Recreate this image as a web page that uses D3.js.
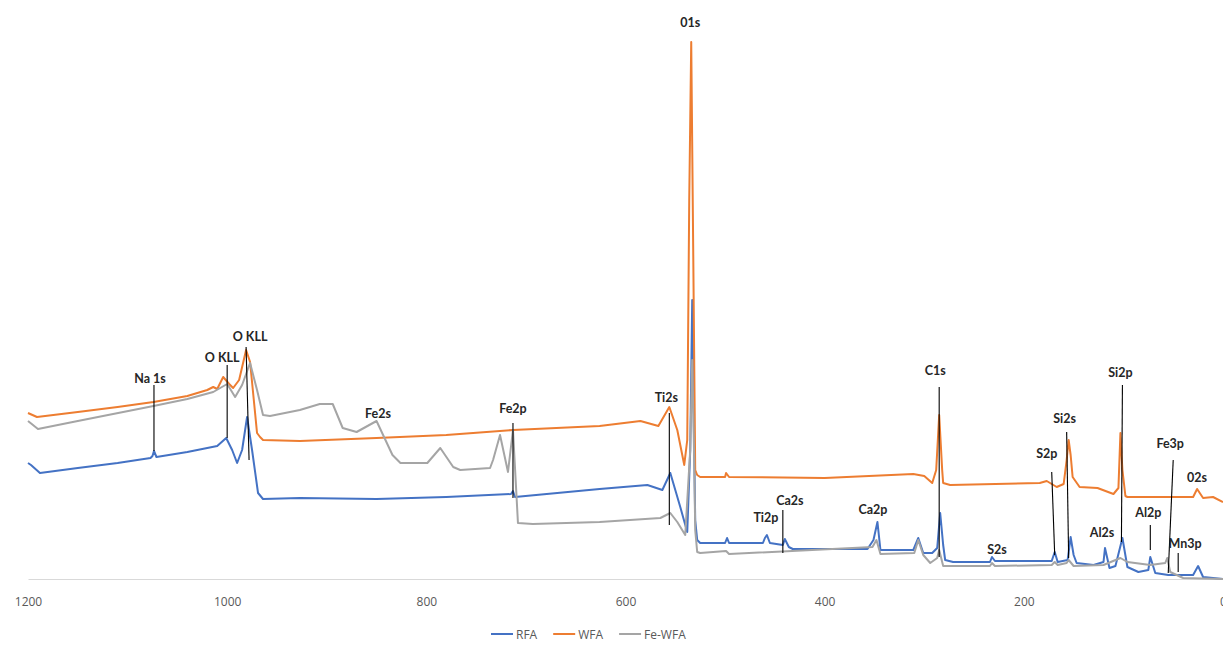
<!doctype html>
<html>
<head>
    <script src="https://d3js.org/d3.v7.min.js"></script>
</head>
<style>
    body { margin: 0; background: #fff; }
    svg text.peak {
        font: bold 12.5px Lato, "Open Sans", sans-serif;
        fill: #262626;
        text-anchor: middle;
        dominant-baseline: central;
    }
    svg text.tick {
        font: 12px "Liberation Sans Narrow", "Open Sans", sans-serif;
        fill: #595959;
        text-anchor: middle;
    }
    svg text.legend {
        font: 12px "Liberation Sans Narrow", "Open Sans", sans-serif;
        fill: #595959;
        dominant-baseline: central;
    }
</style>
<body>
<script>
    // binding energy (eV) and intensity (a.u.)
    var rfaEV = [1200,1197,1188,1150,1110,1077,1075,1073.5,1071,1040,1020,1010,1001,995,990,985,980,975,969,964,927,850,780,715,713,711,626,578,563,555,550,545,538,535,533,531,530,528,525,500,498,496,462,460,458,455,442,440,436,432,357,351,347,344,311,306,301,292,287,284,281,279,271,234,232,229,172,169,166,156,153,150,147,130,120,118.5,114,108,101,96,85,75,73,68,55,30,25,20,0];
    var rfaCounts = [1160,1140,1060,1110,1160,1210,1230,1280,1220,1270,1310,1330,1410,1290,1160,1290,1620,1290,860,800,810,800,820,850,880,820,900,940,890,1060,890,720,470,1290,2790,1290,590,390,360,360,410,360,360,410,440,360,340,400,320,300,300,390,570,290,290,410,260,260,310,660,340,190,170,170,220,180,180,270,170,190,420,240,160,140,170,310,110,130,410,120,70,90,220,60,40,40,130,20,0];

    var wfaEV = [1200,1191,1150,1110,1074,1040,1020,1014,1010,1004,998,994,988,981,977,970,967,964,927,850,780,713,626,585,567,556,548,541,538,536,534,532,530,528,525,500,499,496,400,311,300,292,288,285,282,281,274,184,177,167,160,157,155,153,151,144,126,110,105,103,101,98,96,30,26,20,10,0];
    var wfaCounts = [1660,1620,1670,1720,1770,1830,1890,1920,1900,2020,1950,1910,1990,2290,2170,1460,1420,1390,1380,1410,1440,1490,1530,1580,1530,1720,1490,1140,1390,3790,5370,3290,1090,1040,1020,1020,1060,1020,1010,1050,1030,960,1090,1640,1090,960,940,960,980,920,950,1190,1390,1240,1020,920,910,850,910,1460,1090,830,820,820,900,810,820,770];

    var feEV = [1200,1190,1150,1074,1040,1014,1000,992,985,977,970,964,957,927,907,894,884,870,850,834,826,799,786,773,766,736,733,726,718,713,708,693,626,565,555,548,540,535,533,531,530,528,525,499,496,352,348,344,310,306,301,294,287,285,281,234,232,229,172,169,166,157,155,150,120,103,96,73,58,56,53,40,0];
    var feCounts = [1580,1500,1580,1730,1800,1870,1950,1820,1940,2160,1890,1640,1630,1690,1750,1750,1510,1470,1580,1240,1160,1160,1310,1120,1090,1110,1190,1440,1070,1490,560,550,570,610,660,570,440,1290,2190,1190,490,270,260,280,250,320,390,250,260,390,240,160,210,290,130,130,160,130,140,170,140,160,190,130,140,210,170,140,160,210,70,10,0];

    var seriesNames = ["RFA", "WFA", "Fe-WFA"];
    var seriesColors = ["#4472C4", "#ED7D31", "#A5A5A5"];
    var xTicks = [1200, 1000, 800, 600, 400, 200, 0];

    // peak labels: name, energy, label height (a.u.)
    var peakNames = ["Na 1s","O KLL","O KLL","Fe2s","Fe2p","Ti2s","01s","Ti2p","Ca2s","Ca2p","C1s","S2s","S2p","Si2s","Si2p","Al2s","Al2p","Fe3p","Mn3p","02s"];
    var peakEV = [1077.5,1005,977,848.5,713,559,535,459,435,351.5,289,227,177,159,103,121.5,75,53,38,26];
    var peakCounts = [2010,2220,2430,1660,1710,1820,5570,620,790,700,2090,300,1260,1610,2070,470,670,1360,360,1020];
    // leader lines: [eV top, counts top, eV bottom, counts bottom]
    var leaderLines = [
        [1073.5,1940,1073.5,1280],
        [1000,2140,1000,1410],
        [981,2320,978,1190],
        [713,1560,713,810],
        [556,1660,556,540],
        [442,690,442,260],
        [285,1920,285,220],
        [172,1070,169,240],
        [157,1470,155,210],
        [101,1940,102,370],
        [73,540,73,290],
        [50,1190,55,60],
        [45,260,45,70]
    ];

    var width = 1223, height = 646;

    var svg = d3.select("body").append("svg")
        .attr("width", width)
        .attr("height", height);

    var x = d3.scaleLinear().domain([1200, 0]).range([28, 1223]);
    var y = d3.scaleLinear().domain([0, 5400]).range([579, 39]);

    // axis, no tick marks, plain integer labels
    var xAxis = d3.axisBottom(x).tickValues(xTicks).tickFormat(d3.format("d")).tickSize(0).tickPadding(0);
    var axisG = svg.append("g").attr("transform", "translate(0,579)").call(xAxis);
    axisG.select(".domain").attr("stroke", "#d9d9d9").attr("stroke-width", 1);
    axisG.selectAll("text").attr("class", "tick").attr("dy", null).attr("y", 27);

    var line = d3.line()
        .x(function(d) { return x(d[0]); })
        .y(function(d) { return y(d[1]); });

    var allSeries = [
        d3.zip(rfaEV, rfaCounts),
        d3.zip(wfaEV, wfaCounts),
        d3.zip(feEV, feCounts)
    ];

    svg.selectAll("path.series")
        .data(allSeries)
        .enter().append("path")
        .attr("class", "series")
        .attr("d", line)
        .attr("fill", "none")
        .attr("stroke", function(d, i) { return seriesColors[i]; })
        .attr("stroke-width", 2)
        .attr("stroke-linejoin", "round");

    svg.selectAll("line.leader")
        .data(leaderLines)
        .enter().append("line")
        .attr("class", "leader")
        .attr("x1", function(d) { return x(d[0]); })
        .attr("y1", function(d) { return y(d[1]); })
        .attr("x2", function(d) { return x(d[2]); })
        .attr("y2", function(d) { return y(d[3]); })
        .attr("stroke", "#000")
        .attr("stroke-width", 1.1);

    svg.selectAll("text.peak")
        .data(peakNames)
        .enter().append("text")
        .attr("class", "peak")
        .attr("x", function(d, i) { return x(peakEV[i]); })
        .attr("y", function(d, i) { return y(peakCounts[i]); })
        .text(function(d) { return d; });

    // legend
    var legend = svg.append("g").attr("transform", "translate(0,634)");
    var lx = 491;
    seriesNames.forEach(function(name, i) {
        legend.append("line")
            .attr("x1", lx).attr("x2", lx + 22)
            .attr("stroke", seriesColors[i]).attr("stroke-width", 2);
        var t = legend.append("text").attr("class", "legend")
            .attr("x", lx + 25).text(name);
        lx += 25 + t.node().getComputedTextLength() + 16;
    });
</script>
</body>
</html>
